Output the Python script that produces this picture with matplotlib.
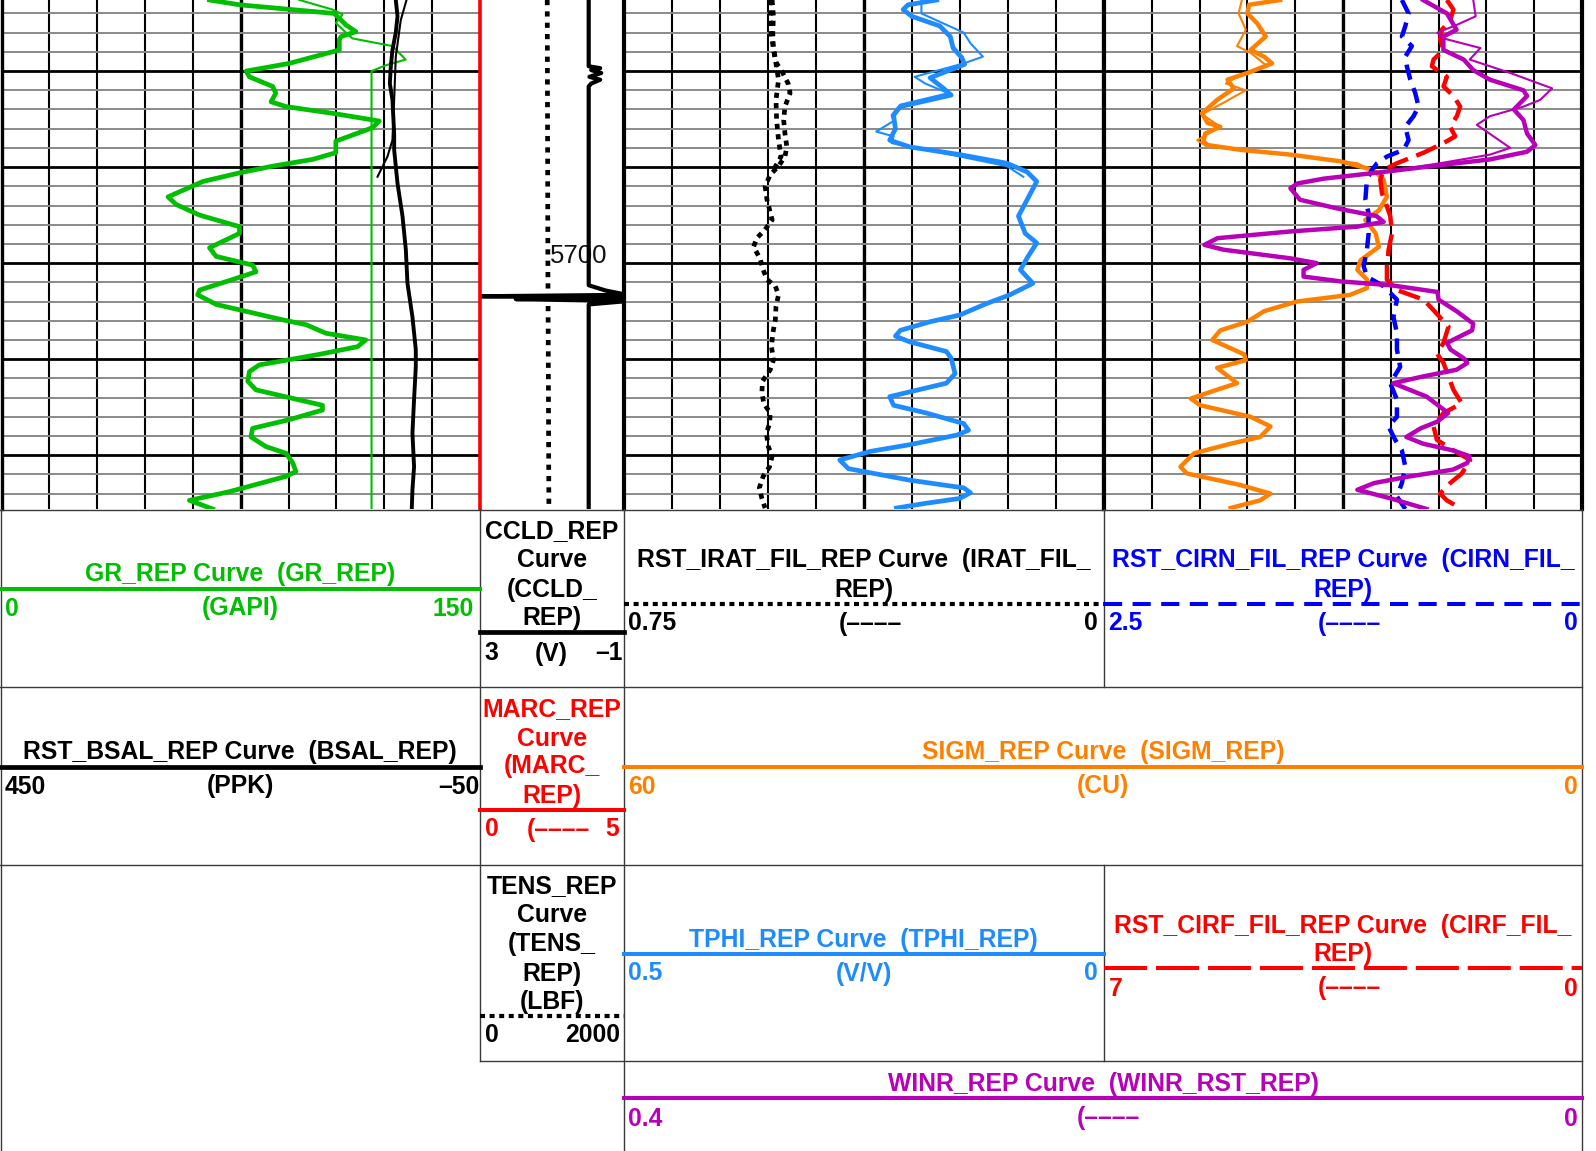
import matplotlib.pyplot as plt
import numpy as np

# depth window shown in the log (ft)
depth_top, depth_base = 5672.6, 5725.6
depth_label = 5700

# track 1 : GR (GAPI, 0..150), main pass + repeat pass
gr_depth = [5672.6, 5673.1, 5674.0, 5675.2, 5675.9, 5676.4, 5676.7, 5677.8, 5679.2, 5680.0,
            5680.6, 5681.6, 5682.3, 5683.2, 5683.7, 5684.4, 5685.2, 5685.9, 5687.3, 5688.5,
            5689.2, 5689.9, 5690.6, 5691.5, 5693.1, 5693.9, 5695.0, 5696.2, 5696.9, 5698.4,
            5699.3, 5700.2, 5700.9, 5701.7, 5702.8, 5703.3, 5704.3, 5705.9, 5706.4, 5707.3,
            5708.0, 5708.7, 5709.5, 5710.6, 5711.3, 5712.3, 5713.2, 5714.8, 5715.3, 5716.3,
            5717.2, 5718.1, 5719.1, 5719.8, 5720.8, 5721.7, 5722.2, 5723.8, 5724.7, 5725.6]
gr_val = [65.2, 74.6, 104.3, 108.0, 111.1, 106.5, 105.9, 105.9, 90.2, 76.7,
          77.7, 85.0, 86.0, 84.5, 89.2, 103.8, 118.4, 116.3, 104.8, 104.8,
          97.5, 85.0, 74.6, 63.1, 52.2, 54.8, 62.1, 74.6, 74.6, 65.2,
          67.3, 78.7, 79.8, 72.5, 62.1, 61.5, 67.3, 88.1, 95.4, 101.7,
          114.2, 111.6, 99.6, 80.8, 77.7, 77.2, 79.8, 100.6, 100.6, 90.2,
          78.7, 78.2, 82.9, 89.2, 91.3, 92.3, 89.2, 71.4, 58.9, 66.2]
gr2_depth = [5672.6, 5673.6, 5674.1, 5675.0, 5676.0, 5676.6, 5677.4, 5678.8, 5679.4, 5680.0, 5725.6]
gr2_val = [93.4, 103.8, 106.9, 104.8, 108.0, 110.0, 122.6, 126.7, 120.5, 116.0, 116.0]

# track 1 : BSAL (PPK, 450..-50)
bsal_depth = [5672.6, 5674.3, 5676.0, 5677.8, 5679.5, 5681.3, 5683.0, 5686.5, 5688.2, 5691.7,
              5695.1, 5698.6, 5702.1, 5705.6, 5709.0, 5710.8, 5714.2, 5717.7, 5721.2, 5723.6, 5725.6]
bsal_val = [38.0, 36.2, 38.0, 41.5, 43.2, 44.2, 41.5, 39.7, 39.7, 36.2,
            31.0, 27.5, 25.8, 20.6, 17.1, 17.1, 18.9, 20.6, 18.9, 20.6, 21.3]
bsal2_depth = [5672.6, 5674.7, 5678.5, 5683.0, 5687.2, 5688.9, 5691.0]
bsal2_val = [26.8, 32.8, 38.0, 39.7, 41.5, 46.7, 57.1]

# depth track : TENS (LBF), CCLD (V), MARC
tens_depth = [5672.6, 5690.0, 5700.0, 5710.0, 5725.6]
tens_val = [937, 943, 946, 952, 960]
ccld_depth = [5672.6, 5679.5, 5679.7, 5679.9, 5680.2, 5680.6, 5680.9, 5681.3, 5681.6,
              5702.3, 5702.85, 5703.3, 5703.45, 5703.6, 5703.75, 5703.95, 5704.3, 5725.6]
ccld_val = [-0.03, -0.03, -0.35, -0.1, -0.38, -0.05, -0.35, -0.1, -0.03,
            -0.03, -0.5, -1.1, 2.95, -1.1, 2.0, -1.1, -0.03, -0.03]
marc_depth = [5672.6, 5725.6]
marc_val = [0.0, 0.0]

# track 2 : IRAT (0.75..0), two passes
irat_depth = [5672.6, 5674.3, 5676.0, 5677.8, 5679.2, 5680.0, 5681.3, 5682.3, 5683.7, 5685.1,
              5686.5, 5687.9, 5688.9, 5689.9, 5690.8, 5692.0, 5693.4, 5695.5, 5696.5, 5697.4,
              5698.3, 5699.5, 5700.7, 5701.7, 5702.4, 5703.3, 5704.5, 5705.9, 5707.3, 5708.7,
              5710.1, 5711.1, 5712.3, 5713.5, 5714.6, 5715.6, 5716.7, 5717.7, 5719.1, 5720.1,
              5721.2, 5722.2, 5723.4, 5724.5, 5725.5]
irat_val = [0.518, 0.516, 0.517, 0.516, 0.511, 0.503, 0.493, 0.490, 0.498, 0.500,
            0.498, 0.495, 0.498, 0.508, 0.521, 0.529, 0.526, 0.518, 0.529, 0.542,
            0.547, 0.537, 0.532, 0.526, 0.513, 0.508, 0.512, 0.513, 0.517, 0.519,
            0.516, 0.521, 0.533, 0.534, 0.531, 0.521, 0.522, 0.527, 0.524, 0.518,
            0.522, 0.532, 0.538, 0.534, 0.529]
irat2_depth = [5672.6, 5676.0, 5678.8, 5680.9, 5683.0, 5685.1, 5687.2, 5688.9, 5690.3]
irat2_val = [0.522, 0.520, 0.513, 0.508, 0.512, 0.511, 0.508, 0.504, 0.516]

# track 2 : TPHI (V/V, 0.5..0), two passes
tphi_depth = [5672.6, 5673.1, 5673.6, 5674.3, 5675.3, 5676.4, 5677.6, 5678.6, 5679.3, 5680.7,
              5681.8, 5682.5, 5683.0, 5683.7, 5684.6, 5686.0, 5687.2, 5687.9, 5688.7, 5689.6,
              5690.5, 5691.5, 5693.4, 5695.1, 5696.9, 5697.9, 5699.3, 5700.7, 5702.1, 5703.3,
              5704.2, 5705.4, 5706.1, 5707.0, 5707.6, 5708.2, 5709.2, 5709.9, 5711.5, 5712.5,
              5713.4, 5713.9, 5714.8, 5715.6, 5716.7, 5717.4, 5717.9, 5718.9, 5719.6, 5720.5,
              5721.4, 5722.6, 5723.4, 5723.9, 5724.5, 5725.0, 5725.5]
tphi_val = [0.174, 0.204, 0.209, 0.200, 0.171, 0.160, 0.157, 0.148, 0.145, 0.181,
            0.167, 0.159, 0.181, 0.212, 0.219, 0.217, 0.223, 0.202, 0.150, 0.101,
            0.080, 0.070, 0.080, 0.089, 0.082, 0.070, 0.079, 0.087, 0.074, 0.098,
            0.122, 0.150, 0.181, 0.212, 0.217, 0.202, 0.164, 0.159, 0.155, 0.164,
            0.202, 0.223, 0.219, 0.185, 0.146, 0.141, 0.153, 0.202, 0.243, 0.275,
            0.266, 0.202, 0.146, 0.139, 0.150, 0.185, 0.216]
tphi2_depth = [5672.6, 5674.0, 5676.0, 5677.1, 5678.5, 5679.2, 5680.6, 5681.3, 5682.3, 5683.5,
               5684.6, 5685.2, 5686.3, 5686.8, 5687.5, 5688.9, 5689.9, 5691.0]
tphi2_val = [0.190, 0.190, 0.146, 0.139, 0.126, 0.146, 0.197, 0.186, 0.162, 0.212,
             0.221, 0.219, 0.237, 0.219, 0.221, 0.150, 0.101, 0.084]

# track 3 : SIGM (CU, 60..0), two passes
sigm_depth = [5672.6, 5673.1, 5674.0, 5675.0, 5676.4, 5677.8, 5678.5, 5679.2, 5680.2, 5680.9,
              5681.8, 5683.0, 5684.4, 5685.4, 5685.8, 5686.5, 5687.3, 5687.7, 5688.2, 5688.7,
              5689.4, 5690.3, 5691.3, 5693.1, 5694.5, 5695.5, 5696.9, 5698.3, 5699.7, 5700.7,
              5701.7, 5702.6, 5703.3, 5704.0, 5705.0, 5706.1, 5707.0, 5708.0, 5709.5, 5710.1,
              5710.9, 5712.5, 5713.4, 5714.1, 5714.8, 5716.0, 5717.0, 5718.1, 5718.8, 5719.8,
              5721.2, 5721.9, 5723.1, 5724.0, 5724.7, 5725.5]
sigm_val = [37.9, 41.8, 42.0, 40.8, 39.7, 41.6, 39.9, 38.9, 42.0, 44.5,
            43.7, 45.8, 47.7, 47.0, 45.4, 47.3, 47.5, 47.0, 42.9, 36.6,
            30.3, 26.2, 24.9, 24.5, 25.5, 27.2, 25.9, 25.5, 27.8, 28.2,
            27.0, 27.0, 29.1, 35.8, 39.9, 42.0, 45.4, 46.4, 42.4, 42.2,
            45.8, 43.3, 46.6, 49.1, 47.9, 41.6, 39.1, 40.4, 44.1, 48.7,
            50.4, 49.6, 42.9, 39.1, 40.4, 44.1]
sigm2_depth = [5672.6, 5674.0, 5675.7, 5677.4, 5678.1, 5679.5, 5680.6, 5681.3, 5682.0, 5683.3,
               5684.5, 5685.8, 5687.2, 5687.9, 5688.5, 5689.6, 5690.5]
sigm2_val = [42.7, 43.1, 42.2, 43.3, 41.6, 39.5, 43.3, 44.7, 42.2, 45.0,
             47.7, 45.4, 48.3, 47.0, 38.3, 28.2, 26.2]

# track 3 : CIRN (2.5..0) and CIRF (7..0)
cirn_depth = [5672.6, 5674.0, 5675.3, 5676.4, 5677.4, 5678.5, 5679.5, 5680.9, 5682.3, 5683.7,
              5684.7, 5685.8, 5687.2, 5688.2, 5688.9, 5689.6, 5690.3, 5691.3, 5693.4, 5694.8,
              5696.9, 5698.6, 5700.3, 5701.4, 5702.4, 5703.8, 5705.6, 5707.3, 5709.0, 5710.8,
              5712.5, 5714.2, 5716.0, 5717.0, 5718.4, 5719.5, 5721.2, 5722.9, 5724.3, 5725.6]
cirn_val = [0.942, 0.907, 0.924, 0.942, 0.890, 0.924, 0.916, 0.898, 0.872, 0.855,
            0.881, 0.924, 0.907, 0.933, 1.020, 1.072, 1.099, 1.125, 1.133, 1.116,
            1.116, 1.125, 1.142, 1.125, 1.038, 0.968, 0.986, 0.968, 0.968, 0.951,
            1.003, 0.968, 0.968, 1.012, 0.977, 0.942, 0.924, 0.942, 0.968, 0.924]
cirf_depth = [5672.6, 5673.6, 5674.7, 5675.7, 5676.7, 5677.8, 5678.8, 5679.5, 5680.6, 5681.6,
              5682.6, 5683.7, 5684.7, 5685.8, 5686.8, 5687.5, 5688.5, 5689.6, 5690.3, 5691.3,
              5692.7, 5694.1, 5695.1, 5696.9, 5698.6, 5700.3, 5701.7, 5702.8, 5703.8, 5704.9,
              5706.6, 5708.3, 5709.4, 5710.4, 5711.8, 5713.2, 5714.6, 5715.6, 5717.0, 5718.4,
              5719.5, 5720.5, 5721.9, 5722.9, 5724.0, 5724.7, 5725.6]
cirf_val = [1.979, 1.882, 1.930, 2.052, 2.077, 2.028, 2.174, 2.199, 1.979, 2.028,
            1.882, 1.784, 1.833, 1.930, 1.857, 2.028, 2.320, 2.711, 2.905, 2.954,
            2.930, 2.857, 2.808, 2.783, 2.832, 2.857, 2.857, 2.711, 2.320, 2.174,
            1.955, 2.028, 2.125, 2.028, 1.955, 1.882, 1.760, 2.028, 2.174, 2.125,
            1.882, 1.638, 1.760, 1.930, 2.077, 1.979, 1.760]

# track 3 : WINR (0.4..0), two passes
winr_depth = [5672.6, 5674.0, 5675.7, 5676.4, 5677.8, 5678.8, 5679.9, 5680.9, 5682.0, 5682.6,
              5684.0, 5685.1, 5686.5, 5687.7, 5688.4, 5689.2, 5689.8, 5690.5, 5691.2, 5691.7,
              5692.2, 5693.4, 5694.3, 5695.1, 5695.7, 5696.2, 5696.7, 5697.4, 5698.1, 5698.6,
              5699.5, 5700.0, 5700.7, 5701.4, 5701.9, 5702.3, 5703.0, 5703.8, 5705.0, 5706.3,
              5707.0, 5708.3, 5709.0, 5709.9, 5710.4, 5711.1, 5711.8, 5712.5, 5713.2, 5713.9,
              5715.6, 5716.5, 5717.2, 5718.1, 5718.8, 5719.5, 5720.1, 5720.8, 5721.5, 5722.2,
              5722.9, 5723.6, 5724.5, 5725.6]
winr_val = [0.133, 0.113, 0.105, 0.116, 0.116, 0.099, 0.091, 0.077, 0.049, 0.046,
            0.057, 0.049, 0.046, 0.039, 0.046, 0.077, 0.119, 0.166, 0.216, 0.238,
            0.244, 0.236, 0.205, 0.172, 0.166, 0.188, 0.244, 0.305, 0.316, 0.300,
            0.244, 0.222, 0.233, 0.233, 0.202, 0.160, 0.121, 0.120, 0.105, 0.091,
            0.092, 0.113, 0.110, 0.099, 0.096, 0.105, 0.133, 0.158, 0.144, 0.130,
            0.112, 0.121, 0.135, 0.147, 0.133, 0.108, 0.094, 0.096, 0.108, 0.144,
            0.174, 0.188, 0.160, 0.130]
winr2_depth = [5672.6, 5674.3, 5675.2, 5676.0, 5676.6, 5677.6, 5678.8, 5680.2, 5681.8, 5683.0,
               5683.7, 5684.7, 5685.6, 5686.8, 5688.0, 5688.7, 5689.6, 5690.5]
winr2_val = [0.091, 0.089, 0.105, 0.121, 0.116, 0.085, 0.094, 0.060, 0.025, 0.035,
             0.049, 0.077, 0.088, 0.074, 0.060, 0.077, 0.119, 0.166]

GREEN = '#00BE00'
TBLUE = '#1E8CFF'
BLUE = '#0000FF'
RED = '#FF0000'
ORANGE = '#FF8000'
PURPLE = '#B800B8'

plt.rcParams['font.family'] = ['Liberation Sans', 'DejaVu Sans']
FS = 17.85

W, H = 1596, 1151
TRACK_H = 509
fig = plt.figure(figsize=(W / 100, H / 100), dpi=100)


def px_axes(x0, x1, y0, y1):
    return fig.add_axes([x0 / W, 1 - y1 / H, (x1 - x0) / W, (y1 - y0) / H])


def grid_track(x0, x1, lo, hi, left_lw=3.0, right_lw=3.0):
    ax = px_axes(x0, x1, 0, TRACK_H)
    ax.set_xlim(lo, hi)
    ax.set_ylim(depth_base, depth_top)
    ax.set_xticks(np.linspace(lo, hi, 11))
    ax.set_yticks(np.arange(5680, 5721, 10))
    ax.set_yticks(np.arange(5674, 5726, 2), minor=True)
    ax.set_axisbelow(True)
    ax.grid(True, which='major', axis='x', color='k', lw=1.5)
    ax.grid(True, which='major', axis='y', color='k', lw=2.0)
    ax.grid(True, which='minor', axis='y', color='#8a8a8a', lw=1.4)
    ax.axvline((lo + hi) / 2, color='k', lw=2.4, zorder=0.5)
    ax.tick_params(which='both', length=0, labelbottom=False, labelleft=False)
    for name, s in ax.spines.items():
        s.set_visible(False)
    if left_lw:
        ax.spines['left'].set_visible(True)
        ax.spines['left'].set_linewidth(left_lw)
    if right_lw:
        ax.spines['right'].set_visible(True)
        ax.spines['right'].set_linewidth(right_lw)
    return ax


def overlay(base, lo, hi):
    ax = fig.add_axes(base.get_position())
    ax.set_xlim(lo, hi)
    ax.set_ylim(depth_base, depth_top)
    ax.axis('off')
    return ax


# ---- track 1
t1 = grid_track(1.5, 480, 0, 150, left_lw=2.4, right_lw=0)
t1.plot(gr2_val, gr2_depth, color=GREEN, lw=1.5)
t1.plot(gr_val, gr_depth, color=GREEN, lw=3.4)
t1b = overlay(t1, 450, -50)
t1b.plot(bsal2_val, bsal2_depth, color='k', lw=1.5)
t1b.plot(bsal_val, bsal_depth, color='k', lw=2.8)

# ---- depth track
td = px_axes(480, 623.5, 0, TRACK_H)
td.set_xlim(0, 2000)
td.set_ylim(depth_base, depth_top)
td.axis('off')
td.plot(tens_val, tens_depth, color='k', lw=3.4, dashes=(1.1, 1.3))
tc = overlay(td, 3, -1)
tc.plot(ccld_val, ccld_depth, color='k', lw=3.0)
tm = overlay(td, 0, 5)
tm.plot(marc_val, marc_depth, color=RED, lw=2.6, clip_on=False)
td.text(0.685, depth_label - 0.7, str(depth_label), transform=td.get_yaxis_transform(),
        ha='center', va='center', fontsize=18.5, color='#111111')

# ---- track 2
t2 = grid_track(623.5, 1104, 0.5, 0)
t2i = overlay(t2, 0.75, 0)
t2i.plot(irat2_val, irat2_depth, color='k', lw=3.4, dashes=(1.1, 1.1))
t2i.plot(irat_val, irat_depth, color='k', lw=3.4, dashes=(1.1, 1.1))
t2.plot(tphi2_val, tphi2_depth, color=TBLUE, lw=1.5)
t2.plot(tphi_val, tphi_depth, color=TBLUE, lw=3.4)

# ---- track 3
t3 = grid_track(1104, 1582, 60, 0)
t3.plot(sigm2_val, sigm2_depth, color=ORANGE, lw=1.5)
t3.plot(sigm_val, sigm_depth, color=ORANGE, lw=3.2)
t3n = overlay(t3, 2.5, 0)
t3n.plot(cirn_val, cirn_depth, color=BLUE, lw=3.2, dashes=(3.5, 2))
t3f = overlay(t3, 7, 0)
t3f.plot(cirf_val, cirf_depth, color=RED, lw=3.2, dashes=(5, 2))
t3w = overlay(t3, 0.4, 0)
t3w.plot(winr2_val, winr2_depth, color=PURPLE, lw=1.5)
t3w.plot(winr_val, winr_depth, color=PURPLE, lw=3.2)

# ---- header / legend boxes
lg = px_axes(0, W, TRACK_H, H)
lg.set_xlim(0, W)
lg.set_ylim(H, TRACK_H)
lg.axis('off')

BC = '#3a3a3a'
for y, xa, xb in [(509.5, 0, 1582), (687, 0, 1582), (865, 0, 1582), (1061, 480, 1582)]:
    lg.plot([xa, xb], [y, y], color=BC, lw=1.0, clip_on=False)
for x, ya, yb in [(1, 509, 1151), (480, 509, 1061), (623.5, 509, 1151),
                  (1104, 509, 687), (1104, 865, 1061), (1582, 509, 1151)]:
    lg.plot([x, x], [ya, yb], color=BC, lw=1.0, clip_on=False)

DY = 1.5  # text baseline nudge


def txt(x, y, s, color, ha='center'):
    lg.text(x, y + DY, s, color=color, ha=ha, va='center', fontsize=FS, fontweight='bold')


def stack(x, ys, lines, color):
    for y, s in zip(ys, lines):
        txt(x, y, s, color)


def scale_row(y, x0, x1, left, mid, right, color, mid_left=False, rpad=4.5):
    txt(x0 + 4.5, y, left, color, 'left')
    if mid:
        if mid_left:
            txt((x0 + x1) / 2 - 25.5, y, mid, color, 'left')
        else:
            txt((x0 + x1) / 2, y, mid, color)
    txt(x1 - rpad, y, right, color, 'right')


DOT = dict(lw=3.0, dashes=(1.2, 1.1))
# row 1
txt(240, 573, 'GR_REP Curve  (GR_REP)', GREEN)
lg.plot([1, 480], [589, 589], color=GREEN, lw=2.9)
scale_row(607, 0, 480, '0', '(GAPI)', '150', GREEN, rpad=6)

stack(552, [530, 558.5, 588, 617], ['CCLD_REP', 'Curve', '(CCLD_', 'REP)'], 'k')
lg.plot([480, 623.5], [632, 632], color='k', lw=3.4)
scale_row(652, 480, 623.5, '3', '(V)', '–1', 'k', rpad=0.5)

stack(863.7, [558, 588], ['RST_IRAT_FIL_REP Curve  (IRAT_FIL_', 'REP)'], 'k')
lg.plot([623.5, 1104], [604, 604], color='k', **DOT)
scale_row(622, 623.5, 1104, '0.75', '(––––', '0', 'k', mid_left=True, rpad=6)

stack(1343, [558, 588], ['RST_CIRN_FIL_REP Curve  (CIRN_FIL_', 'REP)'], BLUE)
lg.plot([1104, 1582], [604, 604], color=BLUE, lw=2.9, dashes=(4.5, 2.6))
scale_row(622, 1104, 1582, '2.5', '(––––', '0', BLUE, mid_left=True)

# row 2
txt(240, 751, 'RST_BSAL_REP Curve  (BSAL_REP)', 'k')
lg.plot([1, 480], [767, 767], color='k', lw=3.4)
scale_row(785, 0, 480, '450', '(PPK)', '–50', 'k', rpad=0.5)

stack(552, [708, 737, 765, 794], ['MARC_REP', 'Curve', '(MARC_', 'REP)'], RED)
lg.plot([480, 623.5], [810, 810], color=RED, lw=2.9)
scale_row(828, 480, 623.5, '0', '(––––', '5', RED, mid_left=True)

txt(1103, 751, 'SIGM_REP Curve  (SIGM_REP)', ORANGE)
lg.plot([623.5, 1582], [767, 767], color=ORANGE, lw=2.9)
scale_row(785, 623.5, 1582, '60', '(CU)', '0', ORANGE)

# row 3
stack(552, [885, 914, 943, 972, 1001], ['TENS_REP', 'Curve', '(TENS_', 'REP)', '(LBF)'], 'k')
lg.plot([480, 623.5], [1016, 1016], color='k', **DOT)
scale_row(1034, 480, 623.5, '0', None, '2000', 'k', rpad=3.5)

txt(863.7, 938, 'TPHI_REP Curve  (TPHI_REP)', TBLUE)
lg.plot([623.5, 1104], [954, 954], color=TBLUE, lw=2.9)
scale_row(972, 623.5, 1104, '0.5', '(V/V)', '0', TBLUE, rpad=6)

stack(1343, [924, 952], ['RST_CIRF_FIL_REP Curve  (CIRF_FIL_', 'REP)'], RED)
lg.plot([1104, 1582], [968, 968], color=RED, lw=2.9, dashes=(10.7, 2.2))
scale_row(987, 1104, 1582, '7', '(––––', '0', RED, mid_left=True)

# row 4
txt(1103, 1082, 'WINR_REP Curve  (WINR_RST_REP)', PURPLE)
lg.plot([623.5, 1582], [1098, 1098], color=PURPLE, lw=2.9)
scale_row(1117, 623.5, 1582, '0.4', '(––––', '0', PURPLE, mid_left=True)

fig.savefig('out.png', dpi=100)
